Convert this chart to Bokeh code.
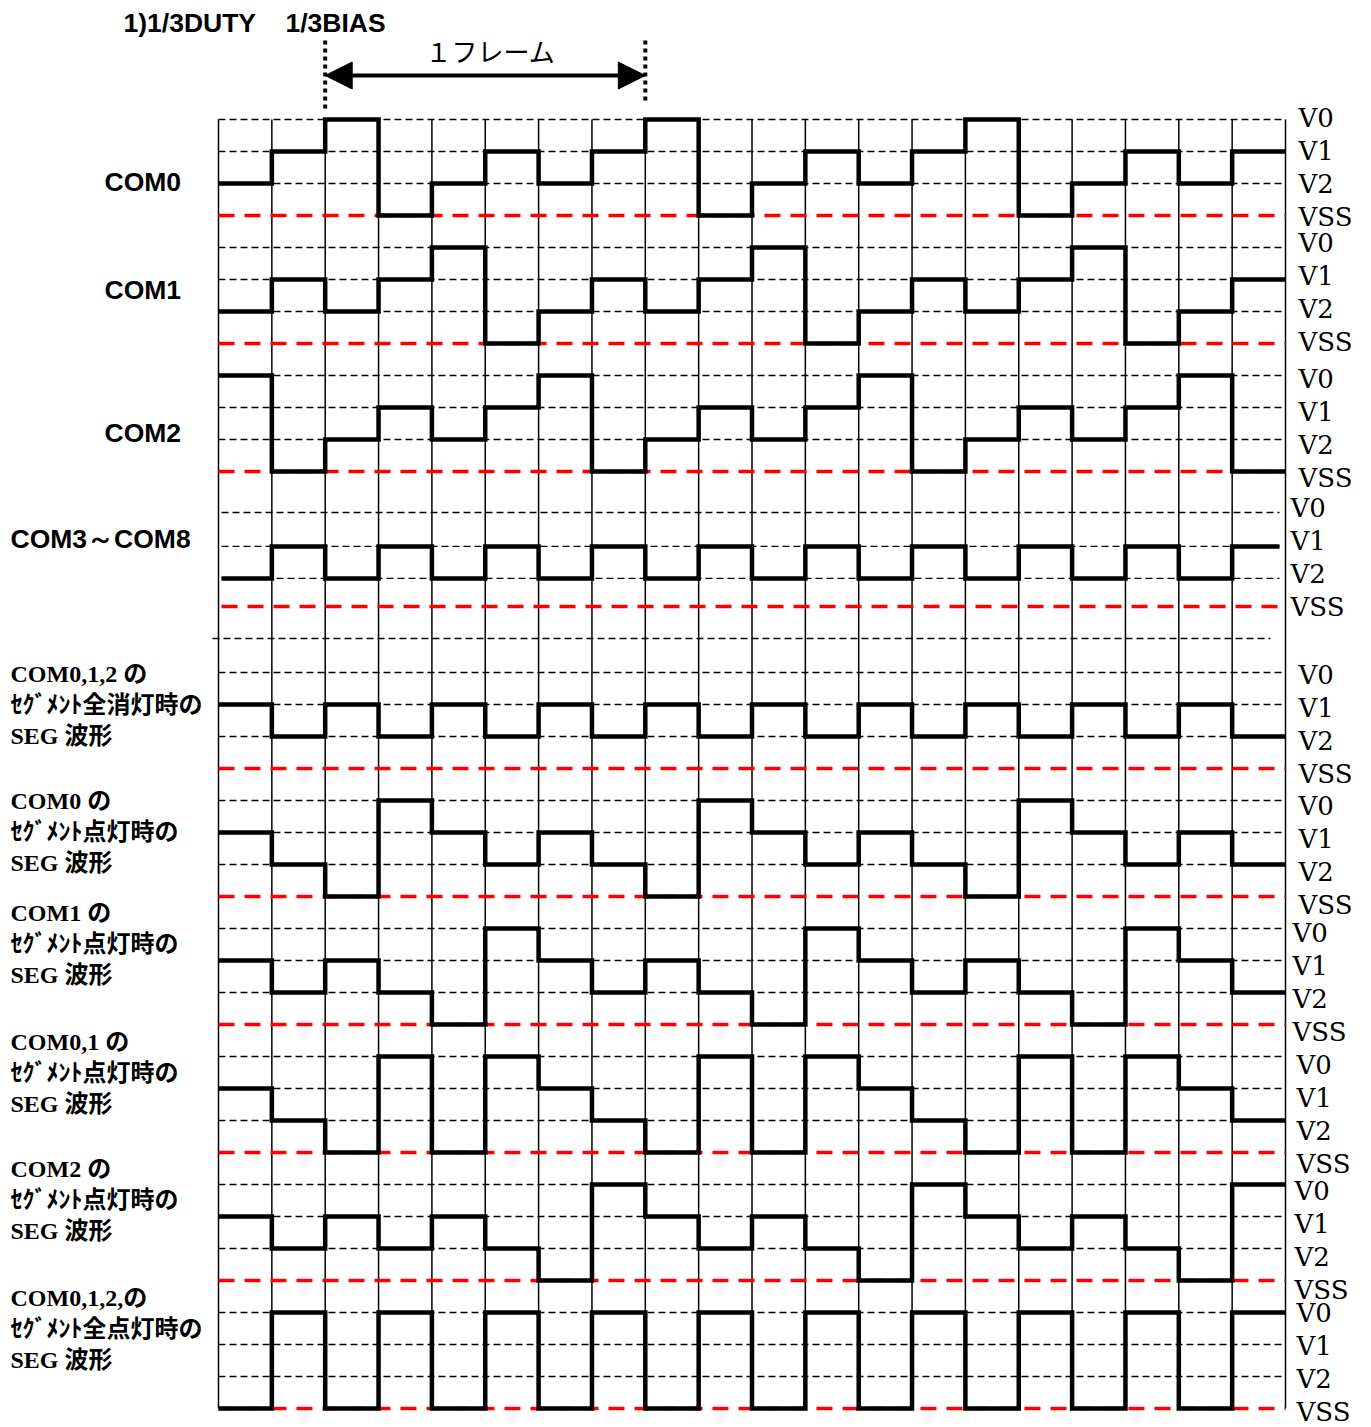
from bokeh.plotting import figure
from bokeh.models import Range1d, Arrow, NormalHead
from bokeh.core.properties import value
from bokeh.embed import file_html
from bokeh.resources import INLINE

# ---------------- data (levels per time slot) ----------------
LEVELS = ["V0", "V1", "V2", "VSS"]

COM0 = ["V2", "V1", "V0", "VSS", "V2", "V1", "V2", "V1", "V0", "VSS",
        "V2", "V1", "V2", "V1", "V0", "VSS", "V2", "V1", "V2", "V1"]
COM1 = ["V2", "V1", "V2", "V1", "V0", "VSS", "V2", "V1", "V2", "V1",
        "V0", "VSS", "V2", "V1", "V2", "V1", "V0", "VSS", "V2", "V1"]
COM2 = ["V0", "VSS", "V2", "V1", "V2", "V1", "V0", "VSS", "V2", "V1",
        "V2", "V1", "V0", "VSS", "V2", "V1", "V2", "V1", "V0", "VSS"]
COM3_8 = ["V2", "V1", "V2", "V1", "V2", "V1", "V2", "V1", "V2", "V1",
          "V2", "V1", "V2", "V1", "V2", "V1", "V2", "V1", "V2", "V1"]
SEG_ALL_OFF = ["V1", "V2", "V1", "V2", "V1", "V2", "V1", "V2", "V1", "V2",
               "V1", "V2", "V1", "V2", "V1", "V2", "V1", "V2", "V1", "V2"]
SEG_COM0_ON = ["V1", "V2", "VSS", "V0", "V1", "V2", "V1", "V2", "VSS", "V0",
               "V1", "V2", "V1", "V2", "VSS", "V0", "V1", "V2", "V1", "V2"]
SEG_COM1_ON = ["V1", "V2", "V1", "V2", "VSS", "V0", "V1", "V2", "V1", "V2",
               "VSS", "V0", "V1", "V2", "V1", "V2", "VSS", "V0", "V1", "V2"]
SEG_COM01_ON = ["V1", "V2", "VSS", "V0", "VSS", "V0", "V1", "V2", "VSS", "V0",
                "VSS", "V0", "V1", "V2", "VSS", "V0", "VSS", "V0", "V1", "V2"]
SEG_COM2_ON = ["V1", "V2", "V1", "V2", "V1", "V2", "VSS", "V0", "V1", "V2",
               "V1", "V2", "VSS", "V0", "V1", "V2", "V1", "V2", "VSS", "V0"]
SEG_ALL_ON = ["VSS", "V0", "VSS", "V0", "VSS", "V0", "VSS", "V0", "VSS", "V0",
              "VSS", "V0", "VSS", "V0", "VSS", "V0", "VSS", "V0", "VSS", "V0"]

COM_LABELS = ["COM0", "COM1", "COM2", "COM3～COM8"]
SEG_LABELS = [
    ["COM0,1,2 の", "ｾｸﾞﾒﾝﾄ全消灯時の", "SEG 波形"],
    ["COM0 の", "ｾｸﾞﾒﾝﾄ点灯時の", "SEG 波形"],
    ["COM1 の", "ｾｸﾞﾒﾝﾄ点灯時の", "SEG 波形"],
    ["COM0,1 の", "ｾｸﾞﾒﾝﾄ点灯時の", "SEG 波形"],
    ["COM2 の", "ｾｸﾞﾒﾝﾄ点灯時の", "SEG 波形"],
    ["COM0,1,2,の", "ｾｸﾞﾒﾝﾄ全点灯時の", "SEG 波形"],
]
TITLE_A = "1)1/3DUTY"
TITLE_B = "1/3BIAS"
FRAME_LABEL = "１フレーム"
N_COLS = 20

# ---------------- layout helpers (pixel layout -> data units) ----------------
W, H = 1371, 1427
ORG = 0
PX0, PY0, CW, LH = 218.0, 119.0, 53.35, 32.0


def X(px):
    return (px - PX0) / CW


def Y(py):
    return (py - PY0) / LH


p = figure(width=W, height=H,
           x_range=Range1d(X(ORG), X(ORG + W)), y_range=Range1d(Y(ORG + H), Y(ORG)),
           output_backend="svg", toolbar_location=None,
           x_axis_location=None, y_axis_location=None, min_border=0)
p.outline_line_color = None
p.background_fill_color = "white"
p.border_fill_color = "white"
p.grid.visible = False

# sections: (waveform, base y, level offsets, x extent, label x px, first-label offset px)
std = [0.0, 1.0, 2.0, 3.0]
sections = [
    (COM0, 0.0, std, (0, N_COLS), 1298, -2),
    (COM1, 4.0, std, (0, N_COLS), 1298, -5),
    (COM2, 8.0, std, (0, N_COLS), 1298, 3),
    (COM3_8, Y(512), [0.0, 1.06, 2.06, 2.94], (X(221), X(1279)), 1290, -5),
    (SEG_ALL_OFF, Y(672), std, (0, N_COLS), 1298, 2),
    (SEG_COM0_ON, Y(672) + 4, std, (0, N_COLS), 1298, 5),
    (SEG_COM1_ON, Y(672) + 8, std, (0, N_COLS), 1292, 4),
    (SEG_COM01_ON, Y(672) + 12, std, (0, N_COLS), 1296, 8),
    (SEG_COM2_ON, Y(672) + 16, std, (0, N_COLS), 1294, 6),
    (SEG_ALL_ON, Y(672) + 20, std, (0, N_COLS), 1296, 0),
]

bottom = Y(672) + 23

# vertical grid lines
cols = list(range(N_COLS + 1))
p.segment(x0=cols, y0=[0] * len(cols), x1=cols, y1=[bottom] * len(cols),
          line_color="black", line_width=1.5)

# horizontal reference lines
bx0, bx1, by = [], [], []
rx0, rx1, ry = [], [], []
for wave, base, offs, (xa, xb), lx, loff in sections:
    for i, lev in enumerate(LEVELS):
        yy = base + offs[i]
        if lev == "VSS":
            rx0.append(xa); rx1.append(xb); ry.append(yy)
        else:
            bx0.append(xa); bx1.append(xb); by.append(yy)
# separator
bx0.append(X(212)); bx1.append(X(1270)); by.append(Y(638))

p.segment(x0=bx0, y0=by, x1=bx1, y1=by, line_color="black", line_width=1.4,
          line_dash="7 4")
p.segment(x0=rx0, y0=ry, x1=rx1, y1=ry, line_color="#ff0000", line_width=3.5,
          line_dash="16 10")

# waveforms
for wave, base, offs, (xa, xb), lx, loff in sections:
    xs, ys = [], []
    for k, lev in enumerate(wave):
        yy = base + offs[LEVELS.index(lev)]
        x_left = max(k, xa)
        x_right = min(k + 1, xb)
        xs += [x_left, x_right]
        ys += [yy, yy]
    p.line(xs, ys, line_color="black", line_width=4.5, line_join="miter")

# right-hand level labels
lab_x, lab_y, lab_t = [], [], []
for wave, base, offs, (xa, xb), lx, loff in sections:
    y0px = PY0 + base * LH
    for i, lev in enumerate(LEVELS):
        lab_x.append(X(lx))
        lab_y.append(Y(y0px + loff + 33.3 * i))
        lab_t.append(lev)
p.text(x=lab_x, y=lab_y, text=lab_t, text_font=value("DejaVu Serif"),
       text_font_size="26px", text_baseline="middle", text_align="left",
       text_color="black")

# left COM labels (sans bold)
p.text(x=[X(104), X(104), X(104), X(10)],
       y=[Y(181), Y(289), Y(432), Y(538)],
       text=COM_LABELS, text_font=value("Liberation Sans"),
       text_font_size="26.5px", text_font_style="bold",
       text_baseline="middle", text_align="left", text_color="black")

# left SEG labels (serif)
block_tops = [673, 800, 912, 1041, 1168, 1297]
sx, sy, st = [], [], []
for top, lines in zip(block_tops, SEG_LABELS):
    for j, t in enumerate(lines):
        sx.append(X(10))
        sy.append(Y(top + 31 * j))
        st.append(t)
p.text(x=sx, y=sy, text=st, text_font=value("Liberation Serif, Noto Sans CJK JP"),
       text_font_size="24px", text_font_style="bold",
       text_baseline="middle", text_align="left", text_color="black")

# title
p.text(x=[X(123), X(285)], y=[Y(22), Y(22)], text=[TITLE_A, TITLE_B],
       text_font=value("Liberation Sans"), text_font_size="26.5px",
       text_font_style="bold", text_baseline="middle", text_align="left",
       text_color="black")

# frame marker
p.segment(x0=[2, 8], y0=[Y(40), Y(40)], x1=[2, 8], y1=[Y(108), Y(102)],
          line_color="black", line_width=4, line_dash="4 4")
p.add_layout(Arrow(start=NormalHead(size=27, fill_color="black", line_color="black"),
                   end=NormalHead(size=27, fill_color="black", line_color="black"),
                   x_start=2, y_start=Y(75), x_end=8, y_end=Y(75),
                   line_color="black", line_width=4))
p.text(x=[X(490)], y=[Y(50)], text=[FRAME_LABEL],
       text_font=value("Noto Sans CJK JP"), text_font_size="26px",
       text_baseline="middle", text_align="center", text_color="black")

open("out.html", "w").write(file_html(p, INLINE))
